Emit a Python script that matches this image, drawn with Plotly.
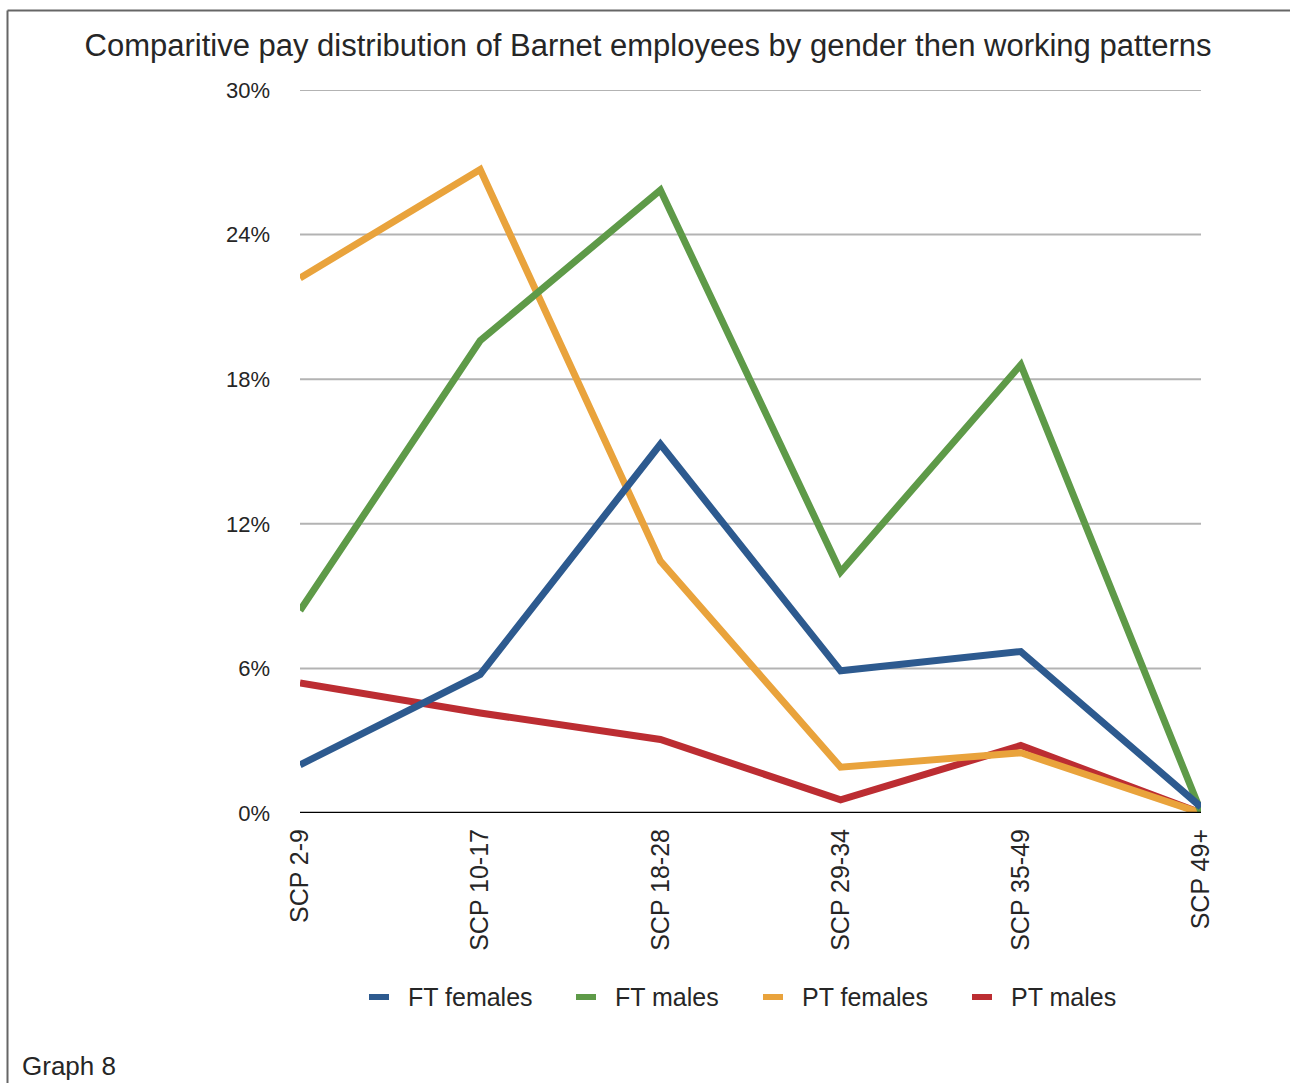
import plotly.graph_objects as go

categories = ["SCP 2-9", "SCP 10-17", "SCP 18-28", "SCP 29-34", "SCP 35-49", "SCP 49+"]
ft_females = [2.0, 5.75, 15.3, 5.9, 6.7, 0.25]
ft_males = [8.4, 19.6, 25.85, 10.0, 18.6, 0.05]
pt_females = [22.2, 26.7, 10.45, 1.9, 2.5, 0.0]
pt_males = [5.4, 4.15, 3.05, 0.55, 2.8, 0.0]
y_ticks = [0, 6, 12, 18, 24, 30]
y_tick_labels = ["0%", "6%", "12%", "18%", "24%", "30%"]

series = [
    ("FT females", ft_females, "#2d5a8f"),
    ("FT males", ft_males, "#5e9a48"),
    ("PT females", pt_females, "#e9a33c"),
    ("PT males", pt_males, "#bc2d32"),
]

W, H = 1290, 1083
L, R, T, B = 300, 89, 90, 270
pw, ph = W - L - R, H - T - B
font_family = "Liberation Sans, Arial, Helvetica, sans-serif"
text_color = "#262626"


def px_x(p):
    return (p - L) / pw


def px_y(p):
    return 1 - (p - T) / ph


fig = go.Figure()

# horizontal gridlines (drawn as shapes so the top one at 30% shows too)
for v in y_ticks[1:]:
    fig.add_shape(type="line", xref="paper", yref="y", x0=0, x1=1, y0=v, y1=v,
                  line=dict(color="#b3b3b3", width=2), layer="below")

# red first so the orange line sits on top of it near the end
for name, vals, color in [series[3], series[2], series[1], series[0]]:
    fig.add_trace(go.Scatter(
        x=categories, y=vals, name=name, mode="lines",
        line=dict(color=color, width=7), showlegend=False,
    ))

fig.update_layout(
    width=W, height=H,
    margin=dict(l=L, r=R, t=T, b=B, pad=0),
    paper_bgcolor="white", plot_bgcolor="white",
    font=dict(family=font_family, color=text_color),
    title=dict(
        text="Comparitive pay distribution of Barnet employees by gender then working patterns",
        x=648 / W, xanchor="center", y=1 - 45 / H, yanchor="middle",
        font=dict(size=31, color=text_color),
    ),
    xaxis=dict(
        type="category", range=[0, 5], showgrid=False, zeroline=False,
        tickangle=-90, ticks="", tickfont=dict(size=25, color=text_color),
        ticklabelstandoff=10, showline=False, automargin=False,
    ),
    yaxis=dict(
        range=[0, 30], tickvals=y_ticks, ticktext=y_tick_labels,
        showgrid=False, zeroline=False, ticks="", ticklabelstandoff=29,
        tickfont=dict(size=22, color=text_color), automargin=False,
    ),
    showlegend=False,
)

# zero baseline
fig.add_shape(type="line", xref="paper", yref="y", x0=0, x1=1, y0=0, y1=0,
              line=dict(color="black", width=2.5), layer="above")

# legend: short coloured dash followed by the series name
legend_dash_x = [369, 576, 763, 972]
legend_y = 997
for (name, _, color), lx in zip(series, legend_dash_x):
    fig.add_shape(type="line", xref="paper", yref="paper",
                  x0=px_x(lx), x1=px_x(lx + 20), y0=px_y(legend_y), y1=px_y(legend_y),
                  line=dict(color=color, width=6))
    fig.add_annotation(text=name, xref="paper", yref="paper",
                       x=px_x(lx + 37), y=px_y(legend_y), xanchor="left", yanchor="middle",
                       showarrow=False, font=dict(size=25, color=text_color))

# outer frame (top and left edges)
fig.add_shape(type="line", xref="paper", yref="paper",
              x0=px_x(7.5), x1=px_x(1295), y0=px_y(10.5), y1=px_y(10.5),
              line=dict(color="#666666", width=2))
fig.add_shape(type="line", xref="paper", yref="paper",
              x0=px_x(7.5), x1=px_x(7.5), y0=px_y(10.5), y1=px_y(1090),
              line=dict(color="#666666", width=2))

fig.add_annotation(text="Graph 8", xref="paper", yref="paper",
                   x=px_x(20), y=px_y(1066), xanchor="left", yanchor="middle",
                   showarrow=False, font=dict(size=26, color=text_color))

fig.write_html("out.html")
